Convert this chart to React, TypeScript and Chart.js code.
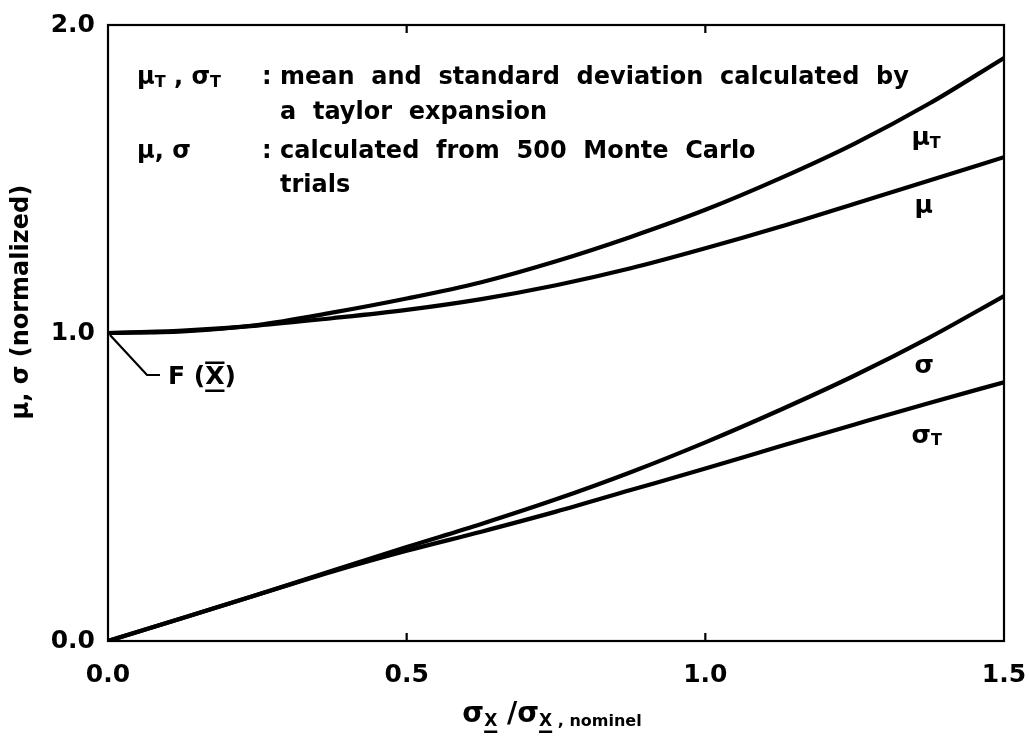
import React, { useEffect, useRef } from "react";
import { Chart, registerables } from "chart.js";

Chart.register(...registerables);

// sigma_X / sigma_X,nominel
const xValues = [0, 0.125, 0.25, 0.375, 0.5, 0.625, 0.75, 0.875, 1.0, 1.125, 1.25, 1.375, 1.5];
// mean by Taylor expansion
const muTaylor = [1.0, 1.005, 1.026, 1.066, 1.112, 1.165, 1.233, 1.312, 1.4, 1.502, 1.615, 1.745, 1.893];
// mean from Monte Carlo
const muMonteCarlo = [1.0, 1.008, 1.024, 1.048, 1.075, 1.11, 1.155, 1.21, 1.275, 1.345, 1.42, 1.495, 1.571];
// std dev from Monte Carlo
const sigmaMonteCarlo = [0, 0.075, 0.15, 0.228, 0.305, 0.38, 0.46, 0.548, 0.645, 0.75, 0.862, 0.985, 1.12];
// std dev by Taylor expansion
const sigmaTaylor = [0, 0.075, 0.15, 0.225, 0.293, 0.355, 0.42, 0.49, 0.56, 0.632, 0.703, 0.773, 0.84];

const xTickValues = [0, 0.5, 1.0, 1.5];
const yTickValues = [0, 1, 2];
const innerTickValues = [0.5, 1.0];

const FONT = '"DejaVu Sans"';

type Part = { t: string; size: number; dy?: number; under?: boolean; over?: boolean };

function drawRich(ctx: CanvasRenderingContext2D, parts: Part[], x: number, y: number, align: "left" | "center") {
  let total = 0;
  const widths = parts.map((p) => {
    ctx.font = `bold ${p.size}px ${FONT}`;
    const w = ctx.measureText(p.t).width;
    total += w;
    return w;
  });
  let cx = align === "center" ? x - total / 2 : x;
  ctx.textAlign = "left";
  ctx.textBaseline = "middle";
  parts.forEach((p, i) => {
    const py = y + (p.dy || 0);
    ctx.font = `bold ${p.size}px ${FONT}`;
    ctx.fillText(p.t, cx, py);
    if (p.under) ctx.fillRect(cx, py + p.size * 0.5, widths[i], 2.5);
    if (p.over) ctx.fillRect(cx, py - p.size * 0.62, widths[i], 2.5);
    cx += widths[i];
  });
}

const series = [muTaylor, muMonteCarlo, sigmaMonteCarlo, sigmaTaylor];

export default function App() {
  const ref = useRef<HTMLCanvasElement | null>(null);

  useEffect(() => {
    document.body.style.margin = "0";
    const canvas = ref.current;
    if (!canvas) return;

    const decor = {
      id: "decor",
      beforeDraw(chart: any) {
        const c = chart.ctx;
        c.save();
        c.fillStyle = "#fff";
        c.fillRect(0, 0, chart.width, chart.height);
        c.restore();
      },
      afterDraw(chart: any) {
        const c: CanvasRenderingContext2D = chart.ctx;
        const xs = chart.scales.x;
        const ys = chart.scales.y;
        const a = chart.chartArea;
        const px = (v: number) => xs.getPixelForValue(v);
        const py = (v: number) => ys.getPixelForValue(v);
        c.save();
        c.strokeStyle = "#000";
        c.fillStyle = "#000";
        c.lineWidth = 2.2;
        c.strokeRect(a.left, a.top, a.right - a.left, a.bottom - a.top);
        // inner ticks
        innerTickValues.forEach((v) => {
          c.beginPath();
          c.moveTo(px(v), a.bottom);
          c.lineTo(px(v), a.bottom - 8);
          c.moveTo(px(v), a.top);
          c.lineTo(px(v), a.top + 8);
          c.stroke();
        });

        // legend text block
        const L = 24;
        const S = 16;
        const col1 = a.left + 29;
        const col2 = a.left + 172;
        const colon = a.left + 154;
        const l1 = py(1.83);
        const l2 = py(1.715);
        const l3 = py(1.588);
        const l4 = py(1.478);
        drawRich(c, [
          { t: "μ", size: L }, { t: "T", size: S, dy: 5 }, { t: " , σ", size: L }, { t: "T", size: S, dy: 5 },
        ], col1, l1, "left");
        drawRich(c, [{ t: ":", size: L }], colon, l1, "left");
        drawRich(c, [{ t: "mean  and  standard  deviation  calculated  by", size: L }], col2, l1, "left");
        drawRich(c, [{ t: "a  taylor  expansion", size: L }], col2, l2, "left");
        drawRich(c, [{ t: "μ, σ", size: L }], col1, l3, "left");
        drawRich(c, [{ t: ":", size: L }], colon, l3, "left");
        drawRich(c, [{ t: "calculated  from  500  Monte  Carlo", size: L }], col2, l3, "left");
        drawRich(c, [{ t: "trials", size: L }], col2, l4, "left");

        // curve labels
        drawRich(c, [{ t: "μ", size: 25 }, { t: "T", size: S, dy: 5 }], px(1.345), py(1.63), "left");
        drawRich(c, [{ t: "μ", size: 25 }], px(1.35), py(1.41), "left");
        drawRich(c, [{ t: "σ", size: 25 }], px(1.35), py(0.89), "left");
        drawRich(c, [{ t: "σ", size: 25 }, { t: "T", size: S, dy: 5 }], px(1.345), py(0.665), "left");

        // F(X) leader
        const ox = px(0);
        const oy = py(1);
        c.lineWidth = 2.2;
        c.beginPath();
        c.moveTo(ox + 2, oy + 2);
        c.lineTo(ox + 39, oy + 42);
        c.lineTo(ox + 52, oy + 42);
        c.stroke();
        drawRich(c, [
          { t: "F (", size: 25 }, { t: "X", size: 25, under: true, over: true }, { t: ")", size: 25 },
        ], ox + 60, oy + 44, "left");

        // x axis title
        drawRich(c, [
          { t: "σ", size: 28 }, { t: "X", size: 17, dy: 7, under: true },
          { t: " /σ", size: 28 }, { t: "X", size: 17, dy: 7, under: true },
          { t: " , nominel", size: 16, dy: 7 },
        ], (a.left + a.right) / 2 - 4, a.bottom + 74, "center");

        // y axis title
        c.save();
        c.translate(22, py(1.1));
        c.rotate(-Math.PI / 2);
        drawRich(c, [{ t: "μ, σ (normalized)", size: 24 }], 0, 0, "center");
        c.restore();
        c.restore();
      },
    };

    const chart = new Chart(canvas, {
      type: "line",
      data: {
        datasets: series.map((s, i) => ({
          label: ["muT", "mu", "sigma", "sigmaT"][i],
          data: xValues.map((x, j) => ({ x, y: s[j] })),
          borderColor: "#000",
          borderWidth: 4.2,
          pointRadius: 0,
          cubicInterpolationMode: "monotone" as const,
          fill: false,
        })),
      },
      options: {
        responsive: false,
        maintainAspectRatio: false,
        animation: false,
        devicePixelRatio: 1,
        layout: { padding: { top: 25, right: 25, left: 0, bottom: 0 } },
        plugins: { legend: { display: false }, tooltip: { enabled: false } },
        scales: {
          x: {
            type: "linear",
            min: 0,
            max: 1.5,
            afterFit: (s: any) => { s.height = 97; s.paddingLeft = 0; s.paddingRight = 0; },
            afterBuildTicks: (s: any) => { s.ticks = xTickValues.map((v) => ({ value: v })); },
            grid: { display: false, drawTicks: false },
            border: { display: false },
            ticks: {
              padding: 19,
              color: "#000",
              font: { family: "DejaVu Sans", size: 25, weight: "bold" },
              callback: (v: any) => Number(v).toFixed(1),
            },
          },
          y: {
            type: "linear",
            min: 0,
            max: 2,
            afterFit: (s: any) => { s.width = 108; s.paddingTop = 0; s.paddingBottom = 0; },
            afterBuildTicks: (s: any) => { s.ticks = yTickValues.map((v) => ({ value: v })); },
            grid: { display: false, drawTicks: false },
            border: { display: false },
            ticks: {
              padding: 13,
              color: "#000",
              font: { family: "DejaVu Sans", size: 25, weight: "bold" },
              callback: (v: any) => Number(v).toFixed(1),
            },
          },
        },
      },
      plugins: [decor],
    });
    return () => chart.destroy();
  }, []);

  return (
    <div style={{ width: 1029, height: 738 }}>
      <canvas ref={ref} width={1029} height={738} style={{ width: 1029, height: 738, display: "block" }} />
    </div>
  );
}
